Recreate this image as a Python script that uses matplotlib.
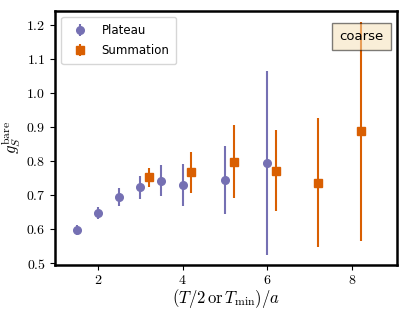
import numpy as np
import matplotlib
matplotlib.use("Agg")
import matplotlib.pyplot as plt

plt.rcParams['mathtext.fontset'] = 'cm'

# plateau fits
plateau_t = [1.5, 2.0, 2.5, 3.0, 3.5, 4.0, 5.0, 6.0]
plateau_val = [0.598, 0.647, 0.693, 0.722, 0.742, 0.730, 0.744, 0.795]
plateau_err = [0.015, 0.017, 0.026, 0.033, 0.045, 0.062, 0.100, 0.270]

# summation fits
summ_t = [3.2, 4.2, 5.2, 6.2, 7.2, 8.2]
summ_val = [0.752, 0.766, 0.798, 0.771, 0.736, 0.887]
summ_err = [0.028, 0.060, 0.107, 0.119, 0.190, 0.322]

xticks = [2, 4, 6, 8]
yticks = [0.5, 0.6, 0.7, 0.8, 0.9, 1.0, 1.1, 1.2]

fig, ax = plt.subplots(figsize=(4.07, 3.13), dpi=100)

ax.errorbar(plateau_t, plateau_val, yerr=plateau_err, fmt='o', color='#7570b3',
            ms=5.5, elinewidth=1.5, capsize=0, label='Plateau')
ax.errorbar(summ_t, summ_val, yerr=summ_err, fmt='s', color='#d95f02',
            ms=5.5, elinewidth=1.5, capsize=0, label='Summation')

ax.set_xlim(1.0, 9.05)
ax.set_ylim(0.494, 1.24)
ax.set_xticks(xticks)
ax.set_xticklabels(['$%d$' % t for t in xticks], fontsize=10)
ax.set_yticks(yticks)
ax.set_yticklabels(['$%.1f$' % t for t in yticks], fontsize=10)
ax.tick_params(axis='x', pad=2.5)

ax.set_xlabel(r'$(T/2\,{\rm or}\,T_{\rm min})/a$', fontsize=12, labelpad=0)
ax.set_ylabel(r'$g_S^{\rm bare}$', fontsize=12, labelpad=2)

for s in ax.spines.values():
    s.set_linewidth(1.8)

ax.legend(loc='upper left', fontsize=8.5, borderpad=0.6, labelspacing=0.6)

ax.text(0.897, 0.90, 'coarse', transform=ax.transAxes, ha='center', va='center',
        fontsize=9.5, bbox=dict(boxstyle='square,pad=0.55', facecolor='wheat', alpha=0.5))

plt.subplots_adjust(left=0.136, right=0.975, bottom=0.153, top=0.965)
plt.savefig('out.png')
